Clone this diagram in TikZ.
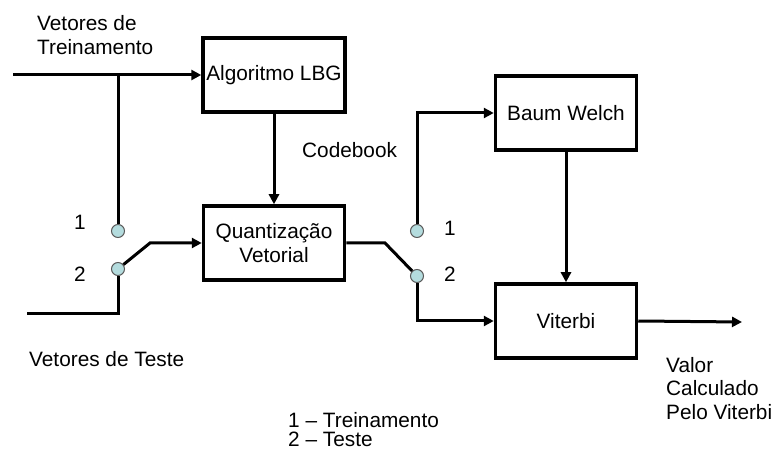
\documentclass[tikz,border=0pt]{standalone}
\usepackage{fontspec}
\setmainfont{Liberation Sans}
\usetikzlibrary{arrows.meta}
\definecolor{switchfill}{RGB}{180,220,222}
\definecolor{switchdraw}{RGB}{90,90,90}

\begin{document}
\begin{tikzpicture}[
      x=1pt, y=-1pt,
      every node/.style={font=\fontsize{20.8}{24}\selectfont},
      block/.style={rectangle, draw, line width=3.5pt, minimum width=141pt, minimum height=74pt, align=center},
      switch/.style={circle, draw=switchdraw, fill=switchfill, line width=1pt, minimum size=13pt, inner sep=0pt},
      txt/.style={inner sep=0pt, align=left},
      wire/.style={line width=3pt},
      flow/.style={line width=3pt, -{Triangle[length=10pt,width=10pt]}}
    ]
      \useasboundingbox (0,0) rectangle (772,454);

      \node[block] (lbg) at (274,75) {Algoritmo LBG};
      \node[block] (quant) at (274,243) {\fontsize{20.8}{25}\selectfont Quantização\\Vetorial};
      \node[block] (baum) at (566,113) {Baum Welch};
      \node[block] (viterbi) at (566,321) {Viterbi};

      \node[switch] (sw1in) at (118,231) {};
      \node[switch] (sw2in) at (118,269) {};
      \node[switch] (sw1out) at (417,231) {};
      \node[switch] (sw2out) at (417,276) {};

      \node[txt] (n1in) at (80,222) {1};
      \node[txt] (n2in) at (80,274) {2};
      \node[txt] (n1out) at (450,228) {1};
      \node[txt] (n2out) at (450,274) {2};

      \coordinate (treino) at (13,75);
      \coordinate (teste) at (27,314);
      \coordinate (arm1) at (150,243);
      \coordinate (arm2) at (385,243);
      \coordinate (saida) at (742,322);

      \draw[flow] (treino) -- (lbg.west);
      \draw[wire] (treino -| sw1in) -- (sw1in);
      \draw[flow] (lbg) -- (quant);
      \draw[wire] (teste) -| (sw2in);
      \draw[flow] (sw2in) -- (arm1) -- (quant.west);
      \draw[wire] (quant.east) -- (arm2) -- (sw2out);
      \draw[flow] (sw2out) |- (viterbi.west);
      \draw[flow] (sw1out) |- (baum.west);
      \draw[flow] (baum) -- (viterbi);
      \draw[flow] (viterbi.east) -- (saida);

      \node[txt, anchor=north west] (treinotxt) at (37,15) {Vetores de\\Treinamento};
      \node[txt, anchor=north west] (testetxt) at (29,351) {Vetores de Teste};
      \node[txt, anchor=base west] (codebook) at (302,158) {Codebook};
      \node[txt, anchor=north west, font=\fontsize{20.8}{23.5}\selectfont] (valor) at (666,357) {Valor\\Calculado\\Pelo Viterbi};
      \node[txt, anchor=north west, font=\fontsize{20.8}{19}\selectfont] (legenda) at (288,412) {1 – Treinamento\\2 – Teste};
\end{tikzpicture}
\end{document}
